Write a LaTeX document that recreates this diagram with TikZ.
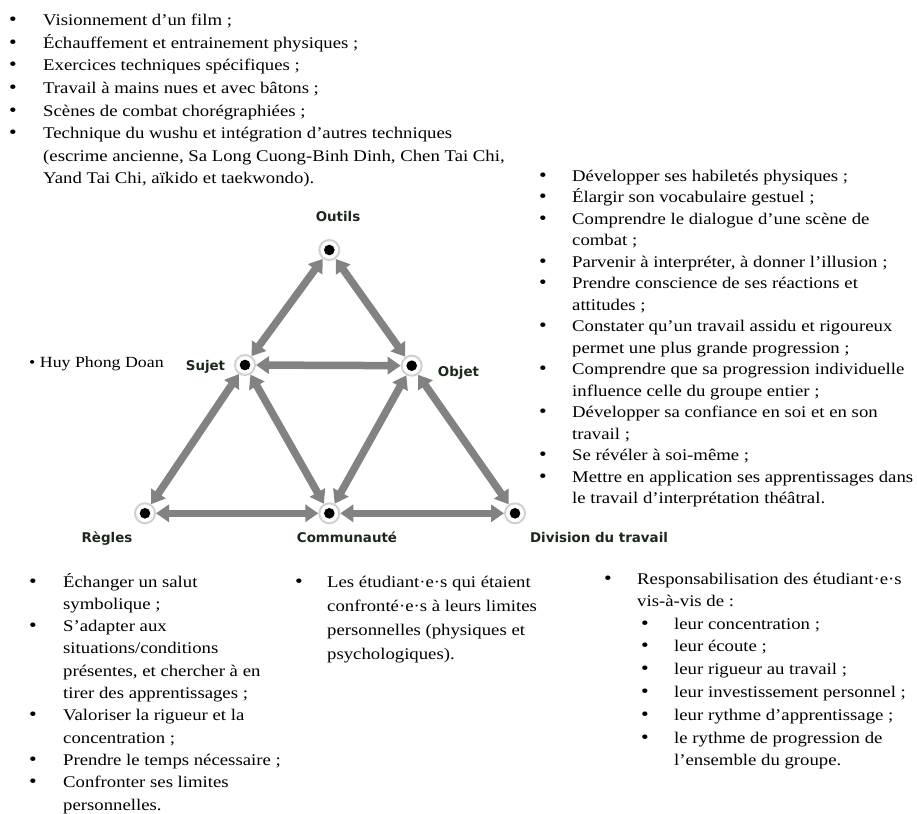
\documentclass[tikz,border=0pt]{standalone}
\usepackage{fontspec}
\setmainfont{Liberation Serif}[FakeStretch=1.15]
\newfontfamily\lblfont{DejaVu Sans}
\usetikzlibrary{arrows.meta,backgrounds}
\definecolor{lblcol}{RGB}{28,40,28}
\definecolor{arrcol}{RGB}{130,130,130}
\tikzset{
 txt/.style={anchor=base west, inner sep=0pt, font=\fontsize{16.3}{20}\selectfont},
 bul/.style={anchor=base, inner sep=0pt, font=\fontsize{19}{20}\selectfont},
 lbl/.style={anchor=base, inner sep=0pt, font=\lblfont\bfseries\fontsize{13.4}{16}\selectfont, text=lblcol},
 vert/.style={circle, minimum size=20pt, inner sep=0pt, fill=white, draw=black!18, line width=2pt,
   path picture={\fill[black] (path picture bounding box.center) circle (5.3pt);}},
 link/.style={draw=arrcol, line width=7.5pt, >={Triangle[length=13pt,width=17pt]}, <->},
}
\begin{document}
\begin{tikzpicture}[x=1pt,y=-1pt]
\useasboundingbox (0,0) rectangle (917,813);
% activity system nodes
\node[vert] (out) at (329.3,250) {};
\node[vert] (suj) at (245,365) {};
\node[vert] (obj) at (411.7,365.7) {};
\node[vert] (reg) at (145,513.3) {};
\node[vert] (com) at (329.3,513.3) {};
\node[vert] (div) at (515,513.3) {};
\begin{scope}[on background layer]
\foreach \a/\b in {out/suj,out/obj,suj/obj,suj/reg,suj/com,obj/com,obj/div,reg/com,com/div}
  \draw[link] (\a) -- (\b);
\end{scope}
% labels
\node[lbl] (lout) at (338,221) {Outils};
\node[lbl] (lsuj) at (205.5,370) {Sujet};
\node[lbl] (lobj) at (458.5,376) {Objet};
\node[lbl] (lreg) at (107,542) {Règles};
\node[lbl] (lcom) at (347,542) {Communauté};
\node[lbl] (ldiv) at (599,542) {Division du travail};
\node[txt, font=\fontsize{15.5}{19}\selectfont] (huy) at (29,367) {• Huy Phong Doan};
% top list (Outils)
\foreach \t [count=\i from 0] in {%
 {Visionnement d’un film ;},
 {Échauffement et entrainement physiques ;},
 {Exercices techniques spécifiques ;},
 {Travail à mains nues et avec bâtons ;},
 {Scènes de combat chorégraphiées ;},
 {Technique du wushu et intégration d’autres techniques},
 {(escrime ancienne, Sa Long Cuong-Binh Dinh, Chen Tai Chi,},
 {Yand Tai Chi, aïkido et taekwondo).}}
  \node[txt] (top\i) at (43,25.7+22.6*\i) {\t};
\foreach \i in {0,...,5}
  \node[bul] (topb\i) at (13,25.7+22.6*\i) {•};
% right list (Objet)
\foreach \t [count=\i from 0] in {%
 {Développer ses habiletés physiques ;},
 {Élargir son vocabulaire gestuel ;},
 {Comprendre le dialogue d’une scène de},
 {combat ;},
 {Parvenir à interpréter, à donner l’illusion ;},
 {Prendre conscience de ses réactions et},
 {attitudes ;},
 {Constater qu’un travail assidu et rigoureux},
 {permet une plus grande progression ;},
 {Comprendre que sa progression individuelle},
 {influence celle du groupe entier ;},
 {Développer sa confiance en soi et en son},
 {travail ;},
 {Se révéler à soi-même ;},
 {Mettre en application ses apprentissages dans},
 {le travail d’interprétation théâtral.}}
  \node[txt] (obj\i) at (572,181+21.5*\i) {\t};
\foreach \i in {0,1,2,4,5,7,9,11,13,14}
  \node[bul] (objb\i) at (543,181+21.5*\i) {•};
% bottom-left list (Règles)
\foreach \t [count=\i from 0] in {%
 {Échanger un salut},
 {symbolique ;},
 {S’adapter aux},
 {situations/conditions},
 {présentes, et chercher à en},
 {tirer des apprentissages ;},
 {Valoriser la rigueur et la},
 {concentration ;},
 {Prendre le temps nécessaire ;},
 {Confronter ses limites},
 {personnelles.}}
  \node[txt] (reg\i) at (63,587+22.3*\i) {\t};
\foreach \i in {0,2,6,8,9}
  \node[bul] (regb\i) at (33,587+22.3*\i) {•};
% middle list (Communauté)
\foreach \t [count=\i from 0] in {%
 {Les étudiant·e·s qui étaient},
 {confronté·e·s à leurs limites},
 {personnelles (physiques et},
 {psychologiques).}}
  \node[txt] (com\i) at (327,587+24*\i) {\t};
\node[bul] (comb0) at (299,587) {•};
% bottom-right list (Division du travail)
\node[bul] (divb0) at (608,584) {•};
\node[txt] (div0) at (637,584) {Responsabilisation des étudiant·e·s};
\node[txt] (div1) at (637,606) {vis-à-vis de :};
\foreach \t [count=\i from 0] in {%
 {leur concentration ;},
 {leur écoute ;},
 {leur rigueur au travail ;},
 {leur investissement personnel ;},
 {leur rythme d’apprentissage ;},
 {le rythme de progression de},
 {l’ensemble du groupe.}}
  \node[txt] (sub\i) at (674,629+22.8*\i) {\t};
\foreach \i in {0,...,5}
  \node[bul] (subb\i) at (645,629+22.8*\i) {•};
\end{tikzpicture}
\end{document}
